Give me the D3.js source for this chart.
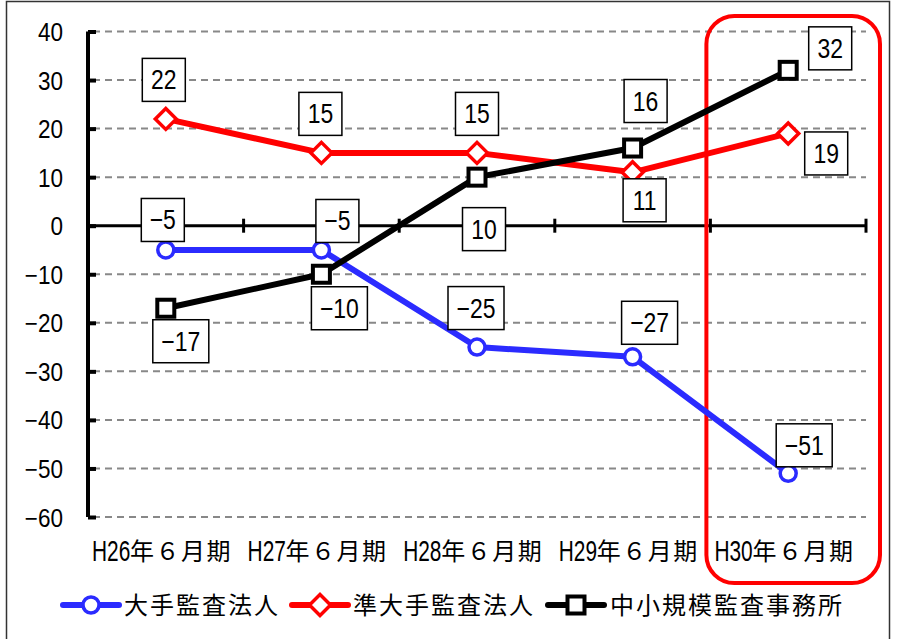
<!DOCTYPE html>
<html lang="ja">
<head>
<meta charset="utf-8">
<script src="https://cdn.jsdelivr.net/npm/d3@7"></script>
<style>
  html, body { margin: 0; padding: 0; background: #fff; }
  svg { display: block; }
  text { font-family: "Liberation Sans", "Noto Sans CJK JP", sans-serif; }
  .cjk { font-family: "Noto Sans CJK JP", sans-serif; }
</style>
</head>
<body>
<svg id="chart" width="898" height="639"></svg>
<script>
// Periods along the horizontal axis
const periods = ["H26年６月期", "H27年６月期", "H28年６月期", "H29年６月期", "H30年６月期"];

// Change counts per firm category
const bigFirms = [-5, -5, -25, -27, -51];        // 大手監査法人
const midFirms = [22, 15, 15, 11, 19];           // 準大手監査法人
const smallFirms = [-17, -10, 10, 16, 32];       // 中小規模監査事務所

// Y axis tick values
const yTicks = [40, 30, 20, 10, 0, -10, -20, -30, -40, -50, -60];

// Label box offsets (centre relative to the point) for each series
const bigOffsets = [[-3, -30], [16, -29], [-1, -39], [17, -34], [16, -28]];
const midOffsets = [[-2, -39], [-1, -39], [0, -39], [12, 28], [38, 20]];
const smallOffsets = [[15, 33], [18, 34], [7, 52], [13, -47], [42, -22]];

const series = [
  { name: "大手監査法人", values: bigFirms, color: "#2b2bff", marker: "circle", offsets: bigOffsets },
  { name: "準大手監査法人", values: midFirms, color: "#ff0000", marker: "diamond", offsets: midOffsets },
  { name: "中小規模監査事務所", values: smallFirms, color: "#000000", marker: "square", offsets: smallOffsets }
];

const svg = d3.select("#chart");

// Condensed numeric text (horizontally squeezed)
function numText(g, px, py, str, size, anchor, sx) {
  return g.append("text")
    .attr("transform", `translate(${px},${py}) scale(${sx},1)`)
    .attr("text-anchor", anchor)
    .attr("font-size", size)
    .attr("fill", "#000")
    .text(str);
}

// Outer frame
svg.append("rect")
  .attr("x", 6.5).attr("y", 1.5)
  .attr("width", 883).attr("height", 660)
  .attr("fill", "#fff").attr("stroke", "#333").attr("stroke-width", 1.5);

const plot = { left: 88, right: 866, top: 31.5, bottom: 517 };

const x = d3.scaleBand().domain(periods).range([plot.left, plot.right]);
const y = d3.scaleLinear().domain([-60, 40]).range([plot.bottom, plot.top]);
const cx = d => x(d) + x.bandwidth() / 2;

// Dashed horizontal gridlines
svg.append("g")
  .selectAll("line")
  .data(yTicks.filter(t => t !== 0))
  .join("line")
  .attr("x1", plot.left + 5).attr("x2", plot.right)
  .attr("y1", d => y(d)).attr("y2", d => y(d))
  .attr("stroke", "#888").attr("stroke-width", 2)
  .attr("stroke-dasharray", "7,5");

// Y axis
const yAxis = d3.axisRight(y).tickValues(yTicks).tickSize(8).tickFormat("");
const yg = svg.append("g").attr("transform", `translate(${plot.left},0)`).call(yAxis);
yg.select(".domain").attr("stroke", "#000").attr("stroke-width", 4)
  .attr("d", `M0,${plot.top}V${plot.bottom}`);
yg.selectAll(".tick line").attr("stroke", "#000").attr("stroke-width", 4);

const fmt = v => v < 0 ? "−" + Math.abs(v) : String(v);

// Y tick labels
const ytg = svg.append("g");
yTicks.forEach(t => numText(ytg, 63, y(t) + 9.5, fmt(t), 25, "end", 0.9));

// Zero line with category boundary ticks
const zg = svg.append("g");
zg.append("line")
  .attr("x1", plot.left).attr("x2", plot.right)
  .attr("y1", y(0)).attr("y2", y(0))
  .attr("stroke", "#000").attr("stroke-width", 3);
const boundaries = periods.map(p => x(p) + x.bandwidth());
zg.selectAll("line.tick")
  .data(boundaries)
  .join("line")
  .attr("class", "tick")
  .attr("x1", d => d).attr("x2", d => d)
  .attr("y1", y(0) - 7).attr("y2", y(0) + 7)
  .attr("stroke", "#000").attr("stroke-width", 3);

// X category labels: condensed latin prefix + CJK remainder
const xg = svg.append("g");
periods.forEach(p => {
  const left = x(p) + 4;
  const prefix = p.slice(0, 3);
  const rest = p.slice(3);
  numText(xg, left, 561, prefix, 29, "start", 0.72);
  xg.append("text")
    .attr("class", "cjk")
    .attr("x", left + 38).attr("y", 560)
    .attr("font-size", 24)
    .attr("letter-spacing", 1.5)
    .attr("fill", "#000")
    .text(rest);
});

// Highlight frame around the latest period
const hl = x(periods[4]);
svg.append("rect")
  .attr("x", hl - 4).attr("y", 16)
  .attr("width", x.bandwidth() + 18).attr("height", 567)
  .attr("rx", 28).attr("ry", 28)
  .attr("fill", "none").attr("stroke", "#ff0000").attr("stroke-width", 4);

// Marker drawing helper
function drawMarker(g, type, color, px, py) {
  if (type === "circle") {
    g.append("circle").attr("cx", px).attr("cy", py).attr("r", 8)
      .attr("fill", "#fff").attr("stroke", color).attr("stroke-width", 3.5);
  } else if (type === "diamond") {
    const s = 10.5;
    g.append("path")
      .attr("d", `M${px},${py - s}L${px + s},${py}L${px},${py + s}L${px - s},${py}Z`)
      .attr("fill", "#fff").attr("stroke", color).attr("stroke-width", 3.5);
  } else {
    g.append("rect").attr("x", px - 8.5).attr("y", py - 8.5).attr("width", 17).attr("height", 17)
      .attr("fill", "#fff").attr("stroke", color).attr("stroke-width", 4);
  }
}

const line = d3.line().x((d, i) => cx(periods[i])).y(d => y(d));

// Series lines
series.forEach(s => {
  svg.append("path")
    .datum(s.values)
    .attr("d", line)
    .attr("fill", "none")
    .attr("stroke", s.color)
    .attr("stroke-width", 6)
    .attr("stroke-linejoin", "round");
});

// Markers
series.forEach(s => {
  const g = svg.append("g");
  s.values.forEach((v, i) => drawMarker(g, s.marker, s.color, cx(periods[i]), y(v)));
});

// Value label boxes
series.forEach(s => {
  s.values.forEach((v, i) => {
    const px = cx(periods[i]) + s.offsets[i][0];
    const py = y(v) + s.offsets[i][1];
    const label = fmt(v);
    const w = label.length > 2 ? 56 : 43;
    const g = svg.append("g");
    g.append("rect")
      .attr("x", px - w / 2).attr("y", py - 21.5)
      .attr("width", w).attr("height", 43)
      .attr("fill", "#fff").attr("stroke", "#000").attr("stroke-width", 1.5);
    numText(g, px, py + 9.5, label, 28, "middle", 0.82);
  });
});

// Legend
const legendItems = [
  { s: series[0], x: 63, tx: 124 },
  { s: series[1], x: 292, tx: 353 },
  { s: series[2], x: 548, tx: 610 }
];
const lg = svg.append("g");
legendItems.forEach(it => {
  const ly = 605;
  lg.append("line")
    .attr("x1", it.x).attr("x2", it.x + 56)
    .attr("y1", ly).attr("y2", ly)
    .attr("stroke", it.s.color).attr("stroke-width", 6).attr("stroke-linecap", "round");
  drawMarker(lg, it.s.marker, it.s.color, it.x + 28, ly);
  lg.append("text")
    .attr("class", "cjk")
    .attr("x", it.tx).attr("y", ly + 9)
    .attr("font-size", 24)
    .attr("letter-spacing", 2)
    .attr("fill", "#000")
    .text(it.s.name);
});
</script>
</body>
</html>
